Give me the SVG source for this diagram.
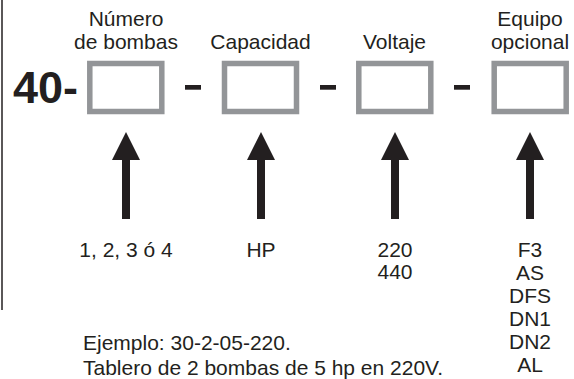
<svg xmlns="http://www.w3.org/2000/svg" width="574" height="379" viewBox="0 0 574 379">
<style>
text{font-family:"Liberation Sans",Arial,sans-serif;fill:#231f20;font-size:21px}
.c{text-anchor:middle}
.box{fill:#fff;stroke:#939598;stroke-width:5.5}
.dash{fill:#231f20}
.arr{fill:#231f20}
</style>
<defs>
<path id="arrow" d="M0,0 L14,28 L4,28 L4,87 L-4,87 L-4,28 L-14,28 Z"/>
</defs>
<rect width="574" height="379" fill="#fff"/>
<line x1="2" y1="0" x2="2" y2="310" stroke="#231f20" stroke-width="1.5"/>
<text x="13" y="103" style="font-size:45px;font-weight:bold">40-</text>
<g id="n1">
<text class="c" x="126" y="26">Número</text>
<text class="c" x="126" y="49">de bombas</text>
<rect class="box" x="89.8" y="63.5" width="72" height="48"/>
<text class="c" x="126" y="257">1, 2, 3 ó 4</text>
</g>
<g id="n2">
<text class="c" x="260.5" y="49">Capacidad</text>
<rect class="box" x="224.5" y="63.5" width="72" height="48"/>
<text class="c" x="261" y="257">HP</text>
</g>
<g id="n3">
<text class="c" x="394.5" y="49">Voltaje</text>
<rect class="box" x="358.8" y="63.5" width="72" height="48"/>
<text class="c" x="395" y="257">220</text>
<text class="c" x="395" y="279">440</text>
</g>
<g id="n4">
<text class="c" x="530" y="26">Equipo</text>
<text class="c" x="530" y="49">opcional</text>
<rect class="box" x="494.2" y="63.5" width="72" height="48"/>
<text class="c" x="530" y="257">F3</text>
<text class="c" x="530" y="280">AS</text>
<text class="c" x="530" y="303">DFS</text>
<text class="c" x="530" y="326">DN1</text>
<text class="c" x="530" y="349">DN2</text>
<text class="c" x="530" y="372">AL</text>
</g>
<g id="dashes">
<rect class="dash" x="185" y="85" width="16" height="4.7"/>
<rect class="dash" x="320" y="85" width="16" height="4.7"/>
<rect class="dash" x="454" y="85" width="16" height="4.7"/>
</g>
<g id="connectors">
<use href="#arrow" class="arr" x="126" y="132"/>
<use href="#arrow" class="arr" x="261" y="132"/>
<use href="#arrow" class="arr" x="395" y="132"/>
<use href="#arrow" class="arr" x="530" y="132"/>
</g>
<g id="example">
<text x="83" y="350">Ejemplo: 30-2-05-220.</text>
<text x="83" y="375">Tablero de 2 bombas de 5 hp en 220V.</text>
</g>
</svg>
